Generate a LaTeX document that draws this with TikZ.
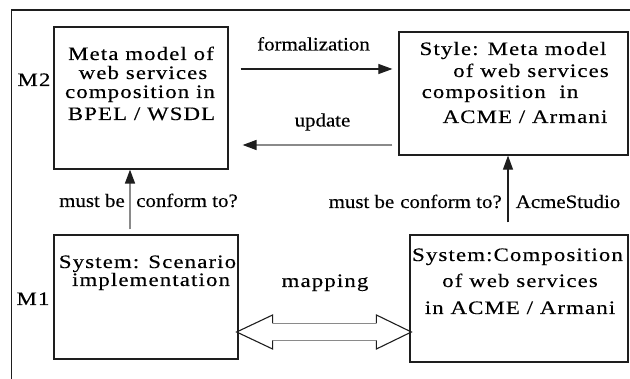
\documentclass[tikz,border=0pt]{standalone}
\usepackage{fontspec}
\usetikzlibrary{arrows.meta}
\newfontfamily\boxfont[FakeStretch=1.2,LetterSpace=6,FakeBold=0.3]{Liberation Serif}
\newfontfamily\lblfont[FakeStretch=1.1,FakeBold=0.3]{Liberation Serif}
\definecolor{edge}{HTML}{1E1E1E}
\definecolor{pale}{HTML}{8A8A8A}
\tikzset{
  box/.style={draw=edge, line width=1.2pt, inner sep=0pt},
  btxt/.style={anchor=base, inner sep=0pt, font=\boxfont\fontsize{19}{19}\selectfont},
  ltxt/.style={anchor=base, inner sep=0pt, font=\lblfont\fontsize{19}{19}\selectfont},
  arr/.style={draw=edge, line width=1.1pt, -{Triangle[length=14pt,width=10pt]}},
  arrg/.style={draw=pale, line width=1.6pt, -{Triangle[length=14pt,width=10pt,color=edge]}},
}
\begin{document}
\begin{tikzpicture}[x=1pt,y=-1pt]
\useasboundingbox (0,0) rectangle (630,379);
\fill[white] (0,0) rectangle (630,379);

% open frame
\draw[edge, line width=1.2pt] (630,10) -- (11.5,10) -- (11.5,379);

% level labels
\node[btxt] (m2) at (34,86) {M2};
\node[btxt] (m1) at (33,305) {M1};

% the four boxes
\node[box, minimum width=174pt, minimum height=142pt] (A) at (141,98) {};
\node[box, minimum width=229pt, minimum height=123pt] (B) at (513.5,93.5) {};
\node[box, minimum width=184pt, minimum height=124pt] (C) at (146,297) {};
\node[box, minimum width=218pt, minimum height=127pt] (D) at (519,298.5) {};

% box texts
\node[btxt] (a1) at (141,60) {Meta model of};
\node[btxt] (a2) at (143,79) {web services};
\node[btxt] (a3) at (140,98) {composition in};
\node[btxt] (a4) at (141.5,120) {BPEL / WSDL};

\node[btxt] (b1) at (513,55) {Style: Meta model};
\node[btxt] (b2) at (531,77) {of web services};
\node[btxt] (b3) at (500,98) {composition\ \ in};
\node[btxt] (b4) at (525,123) {ACME / Armani};

\node[btxt] (c1) at (147.5,268) {System: Scenario};
\node[btxt] (c2) at (151,286) {implementation};

\node[btxt] (d1) at (517.5,261) {System:Composition};
\node[btxt] (d2) at (520,287) {of web services};
\node[btxt] (d3) at (520,314) {in ACME / Armani};

% horizontal arrows between the meta models
\coordinate (fy) at (0,69);
\coordinate (uy) at (0,145);
\draw[arr, shorten <=12pt, shorten >=6pt] (A.east |- fy) -- (B.west |- fy);
\draw[arrg, line width=1.4pt, shorten <=6pt, shorten >=14pt] (B.west |- uy) -- (A.east |- uy);
\node[ltxt] (formal) at (313.5,50.5) {formalization};
\node[ltxt] (upd) at (322.5,126.5) {update};

% conformance arrows
\coordinate (lx) at (130,0);
\coordinate (rx) at (508,0);
\draw[arrg, shorten <=5pt] (C.north -| lx) -- (A.south -| lx);
\draw[arr, shorten <=12pt] (D.north -| rx) -- (B.south -| rx);
\node[ltxt] (mb1) at (92,207) {must be};
\node[ltxt] (ct1) at (187,207) {conform to?};
\node[ltxt] (mb2) at (361.5,208) {must be};
\node[ltxt] (ct2) at (451,208) {conform to?};
\node[ltxt] (acme) at (568,208) {AcmeStudio};

% double-headed mapping arrow
\coordinate (my) at (0,332);
\coordinate (ml) at ([xshift=-2pt]C.east |- my);
\coordinate (mr) at ([xshift=2pt]D.west |- my);
\draw[edge, line width=1.1pt, line join=miter]
  ([xshift=36pt,yshift=-8.5pt]ml) -- ([xshift=36pt,yshift=-17pt]ml) -- (ml)
  -- ([xshift=36pt,yshift=17pt]ml) -- ([xshift=36pt,yshift=8.5pt]ml);
\draw[edge, line width=1.1pt, line join=miter]
  ([xshift=-35pt,yshift=-8.5pt]mr) -- ([xshift=-35pt,yshift=-17pt]mr) -- (mr)
  -- ([xshift=-35pt,yshift=17pt]mr) -- ([xshift=-35pt,yshift=8.5pt]mr);
\draw[pale, line width=1.5pt]
  ([xshift=36pt,yshift=-8.5pt]ml) -- ([xshift=-35pt,yshift=-8.5pt]mr)
  ([xshift=36pt,yshift=8.5pt]ml) -- ([xshift=-35pt,yshift=8.5pt]mr);
\node[btxt] (map) at (325,287) {mapping};
\end{tikzpicture}
\end{document}
